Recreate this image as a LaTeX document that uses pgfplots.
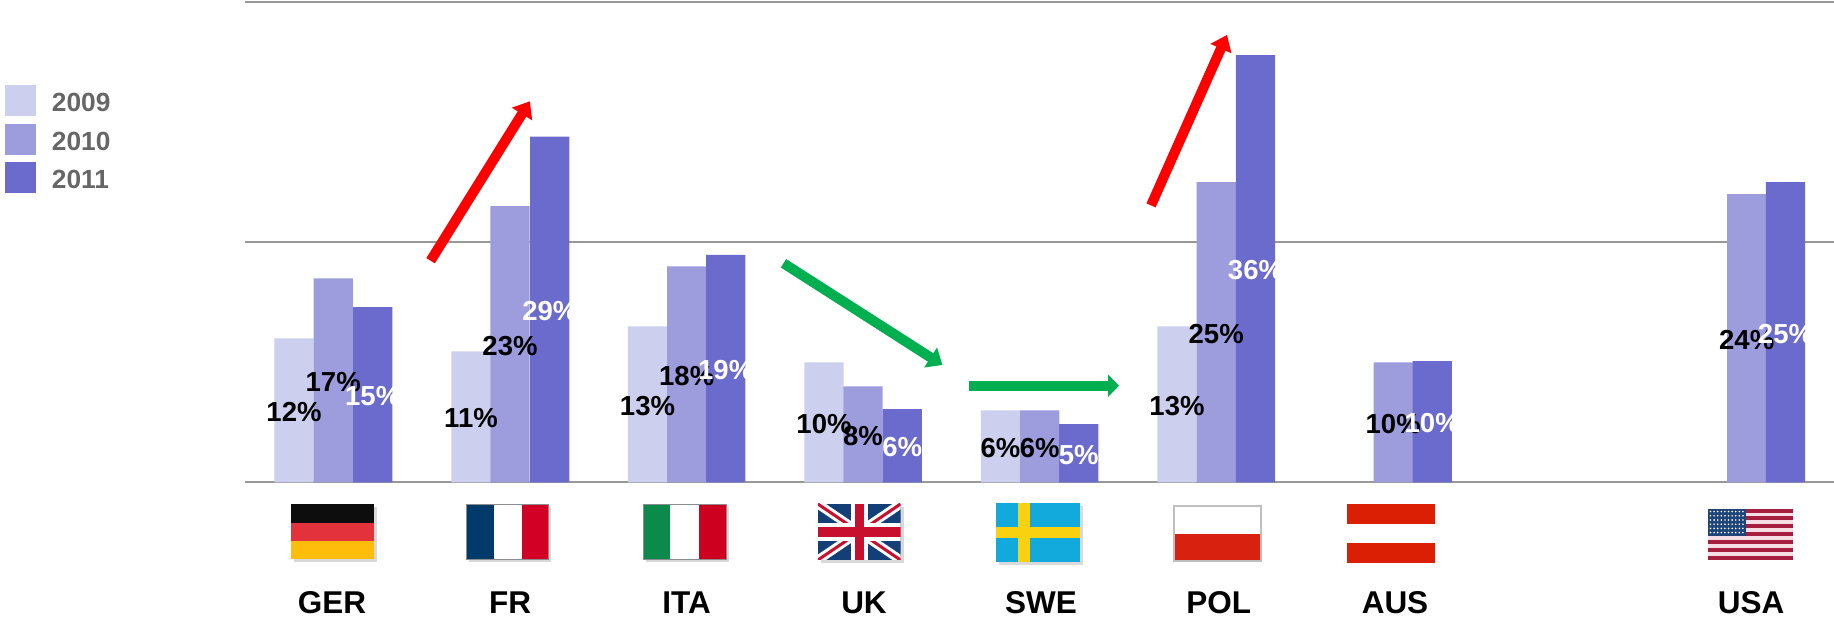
\documentclass[border=0pt]{standalone}
\usepackage{pgfplots}
\usepackage{pgfplotstable}
\usepackage{fontspec}
\setmainfont{Liberation Sans}
\usetikzlibrary{arrows.meta}
\pgfplotsset{compat=1.18}
\definecolor{cA}{HTML}{CDCFEE}
\definecolor{cB}{HTML}{9D9CDD}
\definecolor{cC}{HTML}{6B6BCE}
\definecolor{gridc}{HTML}{989898}
\definecolor{legt}{HTML}{666666}
\definecolor{arrg}{HTML}{00B050}
\tikzset{HTML/.code={\definecolor{tmpc}{HTML}{#1}\pgfkeysalso{/tikz/color=tmpc}}}
\pgfplotstableread{
x y label
294.0 12.0 12
471.0 10.9 11
647.5 13.0 13
824.0 10.0 10
1000.5 6.0 6
1177.0 13.0 13
}\dataA
\pgfplotstableread{
x y label
333.2 17.0 17
510.0 23.0 23
686.7 18.0 18
863.0 8.0 8
1039.8 6.0 6
1216.2 25.0 25
1393.2 10.0 10
1746.7 24.0 24
}\dataB
\pgfplotstableread{
x y label
372.7 14.6 15
549.8 28.8 29
725.7 18.95 19
902.3 6.1 6
1078.8 4.85 5
1255.5 35.6 36
1432.2 10.1 10
1785.5 25.0 25
}\dataC
\begin{document}
\begin{tikzpicture}
\path[use as bounding box] (-245pt,-135.7pt) rectangle (1589pt,482.3pt);
\begin{axis}[
  at={(0pt,0pt)}, anchor=south west,
  scale only axis, width=1589pt, height=480.1pt,
  xmin=245, xmax=1834, ymin=0, ymax=40,
  axis line style={draw=none},
  tick style={draw=none},
  ytick={0,20,40}, yticklabels={},
  ymajorgrids,
  grid style={gridc, line width=2.2pt},
  xtick={332,510,686.6,864,1041,1218.7,1395,1751},
  xticklabels={GER,FR,ITA,UK,SWE,POL,AUS,USA},
  xticklabel style={font=\fontsize{31.5}{31.5}\selectfont\bfseries, yshift=-105.5pt, text=black},
  clip=false,
  legend cell align=left,
  legend style={at={(axis cs:5,33.1)}, anchor=north west, draw=none, fill=none,
    inner sep=0pt, outer sep=0pt, row sep=0pt, text=legt,
    font=\fontsize{26.3}{26.3}\selectfont\bfseries,
    nodes={inner sep=0pt, text height=19pt, text depth=12pt, text=legt}},
  legend image code/.code={\fill[#1] (0pt,-8pt) rectangle (31pt,23pt);},
  nodes near coords style={anchor=center, inner sep=0pt, yshift=-1.5pt, font=\fontsize{27.5}{27.5}\selectfont\bfseries},
]
\addplot[ybar, bar width=39.3pt, bar shift=0pt, fill=cA, draw=none] table[x=x,y=y] {\dataA};
\addlegendentry{\hspace{16pt}2009}
\addplot[ybar, bar width=39.3pt, bar shift=0pt, fill=cB, draw=none] table[x=x,y=y] {\dataB};
\addlegendentry{\hspace{16pt}2010}
\addplot[ybar, bar width=39.3pt, bar shift=0pt, fill=cC, draw=none] table[x=x,y=y] {\dataC};
\addlegendentry{\hspace{16pt}2011}
\addplot[forget plot, draw=none, mark=none, point meta=explicit,
  nodes near coords={\pgfmathprintnumber[assume math mode=true]{\pgfplotspointmeta}\%},
  nodes near coords style={text=black}]
  table[x=x, y expr=\thisrow{y}/2, meta=label] {\dataA};
\addplot[forget plot, draw=none, mark=none, point meta=explicit,
  nodes near coords={\pgfmathprintnumber[assume math mode=true]{\pgfplotspointmeta}\%},
  nodes near coords style={text=black}]
  table[x=x, y expr=\thisrow{y}/2, meta=label] {\dataB};
\addplot[forget plot, draw=none, mark=none, point meta=explicit,
  nodes near coords={\pgfmathprintnumber[assume math mode=true]{\pgfplotspointmeta}\%},
  nodes near coords style={text=white}]
  table[x=x, y expr=\thisrow{y}/2, meta=label] {\dataC};
\end{axis}
\begin{scope}[x=1pt, y=-1pt, shift={(-245pt,482.3pt)}]
% arrows
\draw[red, line width=10pt, -{Triangle[length=15pt,width=23pt]}] (430.6,260.7) -- (529.9,101.3);
\draw[red, line width=10pt, -{Triangle[length=15pt,width=22pt]}] (1151,205.4) -- (1227,34.9);
\draw[arrg, line width=10pt, -{Triangle[length=14pt,width=23pt]}] (783.5,263.3) -- (942.4,365);
\draw[arrg, line width=10pt, -{Triangle[length=11pt,width=22pt]}] (969,385.7) -- (1119,385.7);
% flag shadows
\fill[black!15] (294.4,507.3) rectangle (376.7,562.5);
\fill[black!15] (469.2,507.3) rectangle (551.4,562.5);
\fill[black!15] (646.1,507) rectangle (729.1,562.3);
\fill[black!15] (820.9,507) rectangle (903.5,563);
\fill[black!15] (999.2,506.3) rectangle (1082.6,564.7);
% Germany
\fill[black!95] (291.4,504.3) rectangle (373.7,523);
\fill[HTML=E3323C] (291.4,523) rectangle (373.7,541);
\fill[HTML=FDBD0A] (291.4,541) rectangle (373.7,559.5);
% France
\fill[HTML=003A6B] (466.2,504.3) rectangle (493.5,559.5);
\fill[white] (493.5,504.3) rectangle (521.6,559.5);
\fill[HTML=D10024] (521.6,504.3) rectangle (548.4,559.5);
\draw[black!45, line width=0.8pt] (466.2,504.3) rectangle (548.4,559.5);
% Italy
\fill[HTML=0B8A4B] (643.1,504) rectangle (670.4,559.3);
\fill[white] (670.4,504) rectangle (698.9,559.3);
\fill[HTML=CE0020] (698.9,504) rectangle (726.1,559.3);
\draw[black!45, line width=0.8pt] (643.1,504) rectangle (726.1,559.3);
% UK
\begin{scope}
\clip (817.9,504) rectangle (900.5,560);
\fill[HTML=123F78] (817.9,504) rectangle (900.5,560);
\draw[white, line width=9pt] (817.9,504) -- (900.5,560) (817.9,560) -- (900.5,504);
\draw[HTML=C8102E, line width=3pt] (817.9,504) -- (900.5,560) (817.9,560) -- (900.5,504);
\fill[white] (851,504) rectangle (867.5,560);
\fill[white] (817.9,523) rectangle (900.5,541);
\fill[HTML=C8102E] (854.5,504) rectangle (864,560);
\fill[HTML=C8102E] (817.9,527) rectangle (900.5,537);
\end{scope}
% Sweden
\fill[HTML=12A9DC] (996.2,503.3) rectangle (1079.6,561.7);
\fill[HTML=F9D10E] (1018,503.3) rectangle (1029.8,561.7);
\fill[HTML=F9D10E] (996.2,526.7) rectangle (1079.6,538.3);
% Poland
\fill[HTML=D8220F] (1173.5,534.4) rectangle (1261,561);
\draw[HTML=BFBFBF, line width=2pt] (1173.5,506) rectangle (1261,561.5);
% Austria
\fill[HTML=DA1F05] (1347.2,504.3) rectangle (1435,523.6);
\fill[HTML=DA1F05] (1347.2,543.4) rectangle (1435,562.8);
% USA
\fill[HTML=F6DCE3] (1707.5,508.6) rectangle (1792.8,560);
\foreach \k in {0,2,...,12}{
  \fill[HTML=A51D3F] (1707.5,{508.6+\k*3.95}) rectangle (1792.8,{508.6+(\k+1)*3.95});
}
\fill[HTML=1F4478] (1707.5,508.6) rectangle (1746.3,535.6);
\foreach \i in {0,...,9}{\foreach \j in {0,...,5}{
  \fill[white] ({1710.5+\i*3.6},{511.6+\j*4.2}) circle (0.9);
}}
\end{scope}
\end{tikzpicture}
\end{document}
